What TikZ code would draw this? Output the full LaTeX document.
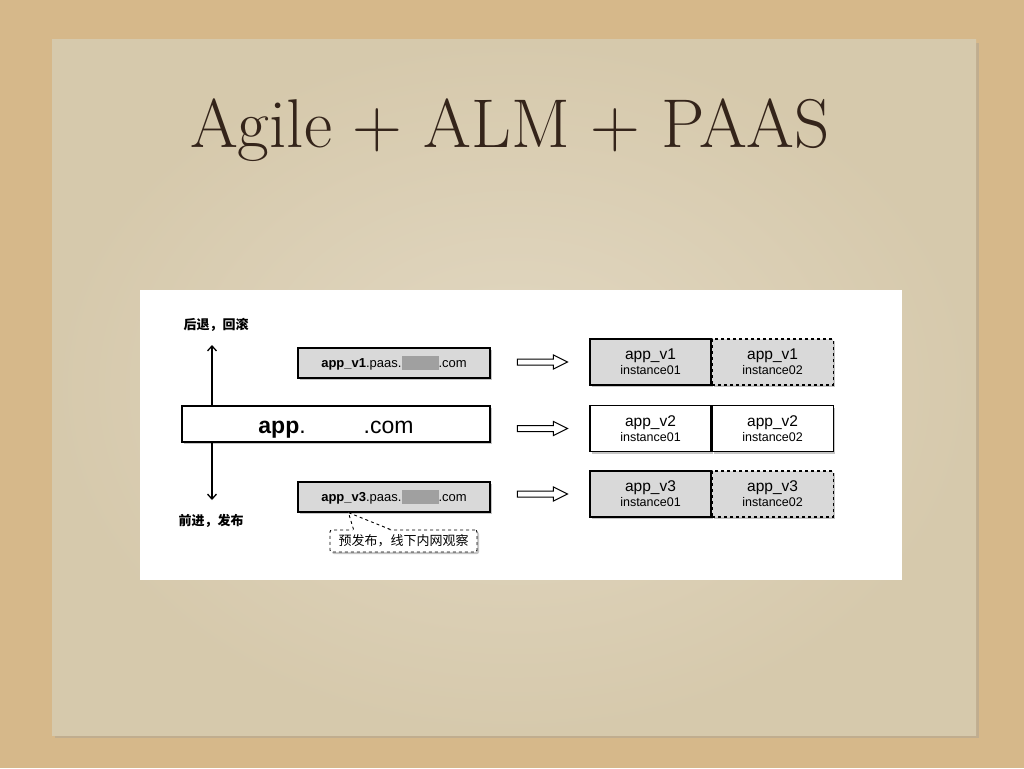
\documentclass[tikz,border=0pt]{standalone}
\usepackage{fontspec}
\setsansfont{Liberation Sans}
\newfontfamily\cjk{Noto Sans CJK SC}
\usetikzlibrary{positioning,arrows.meta,shadows,calc}

\definecolor{sand}{RGB}{214,184,138}
\definecolor{paperlight}{RGB}{226,216,194}
\definecolor{paperdark}{RGB}{214,201,172}
\definecolor{inkbrown}{RGB}{52,36,26}
\definecolor{boxgray}{RGB}{217,217,217}
\definecolor{blobgray}{RGB}{160,160,160}

\newcommand{\blob}{\textcolor{blobgray}{\rule[-3pt]{37pt}{14pt}}}

\begin{document}
\begin{tikzpicture}[
    x=1pt, y=-1pt,
    shadowed/.style={drop shadow={shadow xshift=2pt, shadow yshift=-2pt, fill=black!45, opacity=0.5}},
    urlbox/.style={draw, line width=1.2pt, fill=boxgray, minimum width=192pt, minimum height=30pt, inner sep=0pt, font=\sffamily\fontsize{13}{15}\selectfont, shadowed},
    domainbox/.style={draw, line width=1.2pt, fill=white, minimum width=308pt, minimum height=36pt, inner sep=0pt, text height=18pt, text depth=0pt, font=\sffamily\fontsize{23}{24}\selectfont, shadowed},
    inst/.style={draw, line width=1.1pt, fill=white, minimum width=121pt, minimum height=46pt, inner sep=0pt, align=center, font=\sffamily\fontsize{15.5}{15}\selectfont, shadowed},
    instgray/.style={inst, fill=boxgray},
    instdash/.style={inst, fill=boxgray, dashed},
    notebox/.style={draw, dashed, line width=0.9pt, fill=white, rounded corners=2pt, minimum width=147pt, minimum height=22pt, inner sep=0pt, font=\cjk\fontsize{13}{13}\selectfont, shadowed},
    cnlabel/.style={font=\cjk\bfseries\fontsize{13}{13}\selectfont, inner sep=1pt},
    vert/.style={-{Straight Barb[length=5pt, width=9pt]}, line width=1.3pt},
    fatarrow/.style={draw, line width=1pt, fill=white, line join=miter}
]
\useasboundingbox (0,0) rectangle (1024,768);

% fond et feuille
\fill[sand] (0,0) rectangle (1024,768);
\fill[black!40, opacity=0.35] (55,43) rectangle (979,738);
\shade[inner color=paperlight, outer color=paperdark] (52,40) rectangle (976,735);

% titre
\node[anchor=base, text=inkbrown, font=\fontsize{69}{69}\selectfont, inner sep=0pt] (title) at (510,147) {Agile + ALM + PAAS};

% panneau blanc
\node[fill=white, minimum width=762pt, minimum height=290pt, inner sep=0pt] (panel) at (521,435) {};

% domaines
\node[domainbox] (app) at (336,424) {\textbf{app}.\hspace{58pt}.com};
\node[urlbox] (v1) at (394,363) {\textbf{app\_v1}.paas.\blob.com};
\node[urlbox] (v3) at (394,497) {\textbf{app\_v3}.paas.\blob.com};

% bulle
\node[notebox] (note) at (403.5,541) {预发布，线下内网观察};
\coordinate (tip) at ([xshift=51pt]v3.south west);
\fill[white] ([xshift=23pt,yshift=-1.5pt]note.north west) -- (tip) -- ([xshift=62pt,yshift=-1.5pt]note.north west) -- cycle;
\draw[dashed, line width=0.9pt] ([xshift=24pt]note.north west) -- (tip) -- ([xshift=61pt]note.north west);

% retour / avance
\node[cnlabel] (back) at (216,325) {后退，回滚};
\node[cnlabel] (fwd) at (211,521) {前进，发布};
\coordinate (upend) at (212,345);
\coordinate (downend) at (212,500);
\draw[vert] (app.north -| upend) -- (upend);
\draw[vert] (app.south -| downend) -- (downend);

% instances
\node[instgray] (v1a) at (650.5,362) {app\_v1\\{\fontsize{12.5}{13}\selectfont instance01}};
\node[instdash, right=0pt of v1a] (v1b) {app\_v1\\{\fontsize{12.5}{13}\selectfont instance02}};
\node[inst] (v2a) at (650.5,428.5) {app\_v2\\{\fontsize{12.5}{13}\selectfont instance01}};
\node[inst, right=0pt of v2a] (v2b) {app\_v2\\{\fontsize{12.5}{13}\selectfont instance02}};
\node[instgray] (v3a) at (650.5,494) {app\_v3\\{\fontsize{12.5}{13}\selectfont instance01}};
\node[instdash, right=0pt of v3a] (v3b) {app\_v3\\{\fontsize{12.5}{13}\selectfont instance02}};

% fleches creuses
\foreach \t in {v1a, v2a, v3a}
  \path[fatarrow] ([xshift=-72pt]\t.west) ++(0,-3) -- ++(36,0) -- ++(0,-4) -- ++(14,7) -- ++(-14,7) -- ++(0,-4) -- ++(-36,0) -- cycle;

\end{tikzpicture}
\end{document}
